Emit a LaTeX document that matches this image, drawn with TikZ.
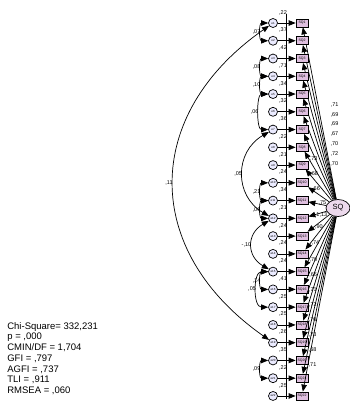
\documentclass[tikz,border=0pt]{standalone}
\usepackage{fontspec}
\setmainfont{Liberation Sans}
\usetikzlibrary{arrows.meta, shapes.geometric}

\begin{document}
\begin{tikzpicture}[
    x=1pt, y=-1pt,
    line width=0.7pt,
    err node/.style={circle, draw, fill=blue!8, inner sep=0pt, minimum size=9pt, font=\fontsize{3}{3}\selectfont},
    item node/.style={rectangle, draw, fill=violet!25, inner sep=0pt, minimum width=12pt, minimum height=8pt, font=\fontsize{3.5}{4}\selectfont},
    latent node/.style={ellipse, draw, fill=violet!15, inner sep=0pt, minimum width=24pt, minimum height=17pt, font=\fontsize{7.5}{8}\selectfont},
    est/.style={font=\fontsize{5.5}{6}\selectfont, inner sep=0.5pt},
    path arrow/.style={-{Triangle[length=7pt, width=5.5pt]}},
    cov arrow/.style={{Triangle[length=7pt, width=5.5pt]}-{Triangle[length=7pt, width=5.5pt]}}
]
    \useasboundingbox (0,0) rectangle (350,407);

    % Latent variable
    \node[latent node] (SQ) at (338,208) {SQ};

    % Items, error terms and estimates
    \draw[line width=0.4pt] (286,14) -- (286,399);
    \foreach \i/\v/\l/\p/\s in {1/22/{,71}/0.55/12, 2/37/{,69}/0.55/12, 3/42/{,69}/0.55/12, 4/71/{,67}/0.55/12,
                                5/34/{,70}/0.55/12, 6/32/{,72}/0.55/12, 7/36/{,70}/0.55/12, 8/22/{,73}/0.85/0,
                                9/21/{,68}/0.85/0, 10/24/{,66}/0.85/0, 11/34/{,75}/0.7/4, 12/21/{1,13}/0.6/0,
                                13/24/{,90}/0.7/0, 14/24/{,74}/0.8/0, 15/24/{,70}/0.85/0, 16/41/{,66}/0.85/0,
                                17/25/{,71}/0.85/0, 18/25/{,72}/0.85/0, 19/26/{,70}/0.85/0, 20/35/{,73}/0.85/0,
                                21/22/{,68}/0.85/0, 22/25/{,71}/0.85/0}{
        \node[err node] (e\i) at (273,{23+(\i-1)*17.76}) {e\i};
        \node[item node] (sq\i) at (302,{23+(\i-1)*17.76}) {SQ\i};
        \node[est] (v\i) at (283,{12.5+(\i-1)*17.76}) {,\v};
        \draw[path arrow] (e\i) -- (sq\i);
        \draw[path arrow] (SQ) -- node[est, pos=\p, anchor=west, xshift=\s pt] (l\i) {\l} (sq\i);
    }

    % Covariances
    \draw[cov arrow] (e1) to[out=180, in=180, looseness=1.34] node[est, left] (c1) {,07} (e2);
    \draw[cov arrow] (e1) to[out=215, in=145, looseness=1.27] node[est, left] (c2) {,11} (e19);
    \draw[cov arrow] (e3) to[out=180, in=180, looseness=1.34] node[est, left] (c3) {,08} (e4);
    \draw[cov arrow] (e4) to[out=180, in=180, looseness=1.34] node[est, left] (c4) {,10} (e5);
    \draw[cov arrow] (e5) to[out=180, in=180, looseness=0.85] node[est, left] (c5) {,06} (e7);
    \draw[cov arrow] (e7) to[out=210, in=150, looseness=1.22] node[est, left] (c6) {,05} (e12);
    \draw[cov arrow] (e10) to[out=180, in=180, looseness=1.34] node[est, left] (c7) {,21} (e11);
    \draw[cov arrow] (e11) to[out=180, in=180, looseness=1.34] node[est, left] (c8) {,06} (e12);
    \draw[cov arrow] (e12) to[out=210, in=150, looseness=1.37] node[est, left] (c9) {-,10} (e15);
    \draw[cov arrow] (e15) to[out=180, in=180, looseness=1.34] node[est, left] (c10) {,14} (e16);
    \draw[cov arrow] (e15) to[out=180, in=180, looseness=1.1] node[est, left] (c11) {,05} (e17);
    \draw[cov arrow] (e20) to[out=180, in=180, looseness=1.34] node[est, left] (c12) {,09} (e21);

    % Fit indices
    \node[anchor=north west, align=left, inner sep=0pt, font=\fontsize{9.5}{10.7}\selectfont] (fit) at (7,322)
        {Chi-Square= 332,231\\p = ,000\\CMIN/DF = 1,704\\GFI = ,797\\AGFI = ,737\\TLI = ,911\\RMSEA = ,060};
\end{tikzpicture}
\end{document}
